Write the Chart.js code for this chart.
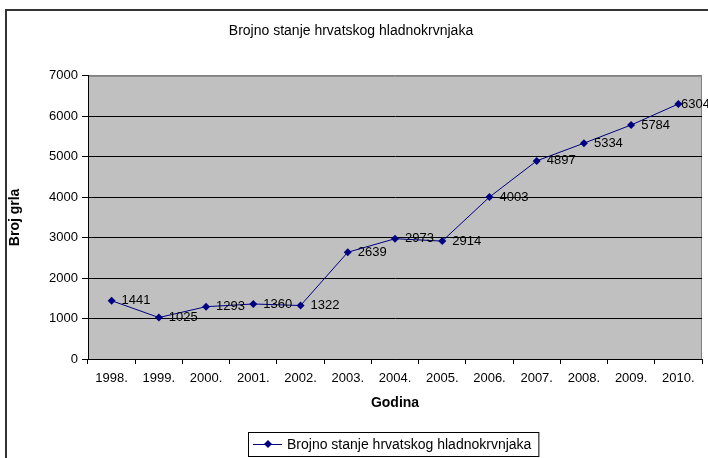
<!DOCTYPE html>
<html>
<head>
<meta charset="utf-8">
<script src="https://cdn.jsdelivr.net/npm/chart.js@4.4.1/dist/chart.umd.min.js"></script>
<style>
  html, body { margin: 0; padding: 0; background: #fff; }
</style>
</head>
<body>
<canvas id="chart" width="708" height="458"></canvas>
<script>
const years = ['1998.', '1999.', '2000.', '2001.', '2002.', '2003.', '2004.',
               '2005.', '2006.', '2007.', '2008.', '2009.', '2010.'];
const headCount = [1441, 1025, 1293, 1360, 1322, 2639, 2973, 2914, 4003, 4897, 5334, 5784, 6304];
const seriesName = 'Brojno stanje hrvatskog hladnokrvnjaka';
const chartTitle = 'Brojno stanje hrvatskog hladnokrvnjaka';
const yTitle = 'Broj grla';
const xTitle = 'Godina';

const FONT = 'Arial, "Liberation Sans", sans-serif';
const NAVY = '#000080';

// grey plot area, outer frame, point labels and the boxed legend
const excelLook = {
  id: 'excelLook',
  beforeDraw(chart) {
    const {ctx, chartArea: a} = chart;
    ctx.save();
    ctx.fillStyle = '#c0c0c0';
    ctx.fillRect(a.left, a.top, a.right - a.left, a.bottom - a.top);
    ctx.strokeStyle = '#808080';
    ctx.lineWidth = 1;
    ctx.beginPath();
    ctx.moveTo(a.left, a.top + 0.5);
    ctx.lineTo(a.right - 0.5, a.top + 0.5);
    ctx.lineTo(a.right - 0.5, a.bottom);
    ctx.stroke();
    // outer chart frame
    ctx.strokeStyle = '#333';
    ctx.lineWidth = 2;
    ctx.strokeRect(6, 10, chart.width + 10, chart.height + 10);
    ctx.restore();
  },
  afterDatasetsDraw(chart) {
    const {ctx} = chart;
    const meta = chart.getDatasetMeta(0);
    ctx.save();
    ctx.font = '13px ' + FONT;
    ctx.fillStyle = '#000';
    ctx.textBaseline = 'middle';
    meta.data.forEach((pt, i) => {
      const txt = String(headCount[i]);
      const w = ctx.measureText(txt).width;
      const x = Math.min(pt.x + 10, chart.width - w + 2);
      ctx.fillText(txt, x, pt.y);
    });
    ctx.restore();
  },
  afterDraw(chart) {
    const {ctx} = chart;
    ctx.save();
    ctx.font = '14px ' + FONT;
    const tw = ctx.measureText(seriesName).width;
    const boxW = tw + 46, boxH = 24;
    const bx = 248, by = 432;
    ctx.strokeStyle = '#000';
    ctx.lineWidth = 1;
    ctx.strokeRect(bx + 0.5, by + 0.5, boxW, boxH);
    const cy = by + 12;
    ctx.strokeStyle = NAVY;
    ctx.beginPath();
    ctx.moveTo(bx + 5, cy + 0.5);
    ctx.lineTo(bx + 34, cy + 0.5);
    ctx.stroke();
    ctx.fillStyle = NAVY;
    ctx.beginPath();
    ctx.moveTo(bx + 20, cy - 4);
    ctx.lineTo(bx + 24, cy);
    ctx.lineTo(bx + 20, cy + 4);
    ctx.lineTo(bx + 16, cy);
    ctx.closePath();
    ctx.fill();
    ctx.fillStyle = '#000';
    ctx.textBaseline = 'middle';
    ctx.fillText(seriesName, bx + 39, cy + 1);
    ctx.restore();
  }
};

new Chart(document.getElementById('chart'), {
  type: 'line',
  data: {
    labels: years,
    datasets: [{
      label: seriesName,
      data: headCount,
      borderColor: NAVY,
      backgroundColor: NAVY,
      borderWidth: 1,
      pointStyle: 'rectRot',
      pointRadius: 4,
      pointBorderWidth: 0,
      pointBackgroundColor: NAVY,
      tension: 0,
      fill: false
    }]
  },
  options: {
    responsive: false,
    animation: false,
    layout: { padding: { left: 0, right: 6, top: 0, bottom: 0 } },
    plugins: {
      legend: { display: false },
      tooltip: { enabled: false },
      title: {
        display: true,
        text: chartTitle,
        color: '#000',
        font: { family: FONT, size: 14, weight: 'normal' },
        padding: { top: 23, bottom: 36 }
      }
    },
    scales: {
      x: {
        offset: true,
        grid: { offset: true, drawOnChartArea: false, color: '#000', tickLength: 5 },
        border: { display: true, color: '#000' },
        ticks: { color: '#000', font: { family: FONT, size: 13 }, padding: 7, maxRotation: 0 },
        title: {
          display: true,
          text: xTitle,
          color: '#000',
          font: { family: FONT, size: 14, weight: 'bold' },
          padding: { top: 0, bottom: 46 }
        },
        afterFit(scale) { scale.height = 99; }
      },
      y: {
        min: 0,
        max: 7000,
        ticks: {
          stepSize: 1000,
          color: '#000',
          font: { family: FONT, size: 13 },
          padding: 4,
          callback: value => String(value)
        },
        grid: {
          color: c => (c.tick && c.tick.value === 7000 ? '#808080' : '#000'),
          tickColor: '#000',
          tickLength: 6
        },
        border: { display: true, color: '#000' },
        title: {
          display: true,
          text: yTitle,
          color: '#000',
          font: { family: FONT, size: 14, weight: 'bold' },
          padding: { top: 7, bottom: 0 }
        },
        afterFit(scale) { scale.width = 88; }
      }
    }
  },
  plugins: [excelLook]
});
</script>
</body>
</html>
